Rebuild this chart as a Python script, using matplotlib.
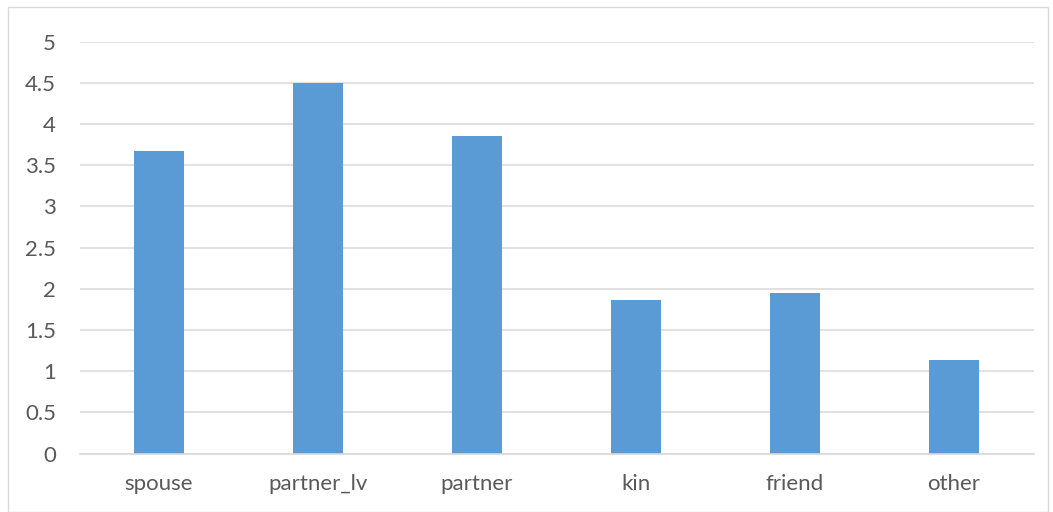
import matplotlib
matplotlib.use("Agg")
import matplotlib.pyplot as plt
from matplotlib.patches import Rectangle

categories = ["spouse", "partner_lv", "partner", "kin", "friend", "other"]
values = [3.675, 4.50, 3.85, 1.86, 1.95, 1.135]
yticks = [0, 0.5, 1, 1.5, 2, 2.5, 3, 3.5, 4, 4.5, 5]
ytick_labels = ["0", "0.5", "1", "1.5", "2", "2.5", "3", "3.5", "4", "4.5", "5"]

plt.rcParams['font.family'] = ['Lato', 'DejaVu Sans']

fig = plt.figure(figsize=(10.53, 5.12), dpi=100)
W, H = 1053, 512
ax = fig.add_axes([79.5 / W, (H - 453.5) / H, (1033.5 - 79.5) / W, (453.5 - 41.5) / H])

x = list(range(len(categories)))
ax.bar(x, values, width=0.314, color="#5B9BD5", zorder=3)
ax.set_xlim(-0.5, len(categories) - 0.5)
ax.set_ylim(0, 5)
ax.set_yticks(yticks)
ax.set_yticklabels(ytick_labels)
ax.set_xticks(x)
ax.set_xticklabels(categories)

for s in ["top", "right", "left"]:
    ax.spines[s].set_visible(False)
ax.spines["bottom"].set_color("#d9d9d9")
ax.spines["bottom"].set_linewidth(1.2)
ax.spines["bottom"].set_zorder(4)
ax.grid(axis="y", color="#d9d9d9", linewidth=1.1, zorder=0)
ax.tick_params(axis="both", length=0, colors="#595959", labelsize=16)
ax.tick_params(axis="y", pad=17)
ax.tick_params(axis="x", pad=15)

fig.patches.append(Rectangle((7.5 / W, 0), (1048 - 7.5) / W, (H - 6.5) / H,
                             transform=fig.transFigure, fill=False,
                             edgecolor="#d9d9d9", linewidth=1))

fig.savefig("out.png", dpi=100)
